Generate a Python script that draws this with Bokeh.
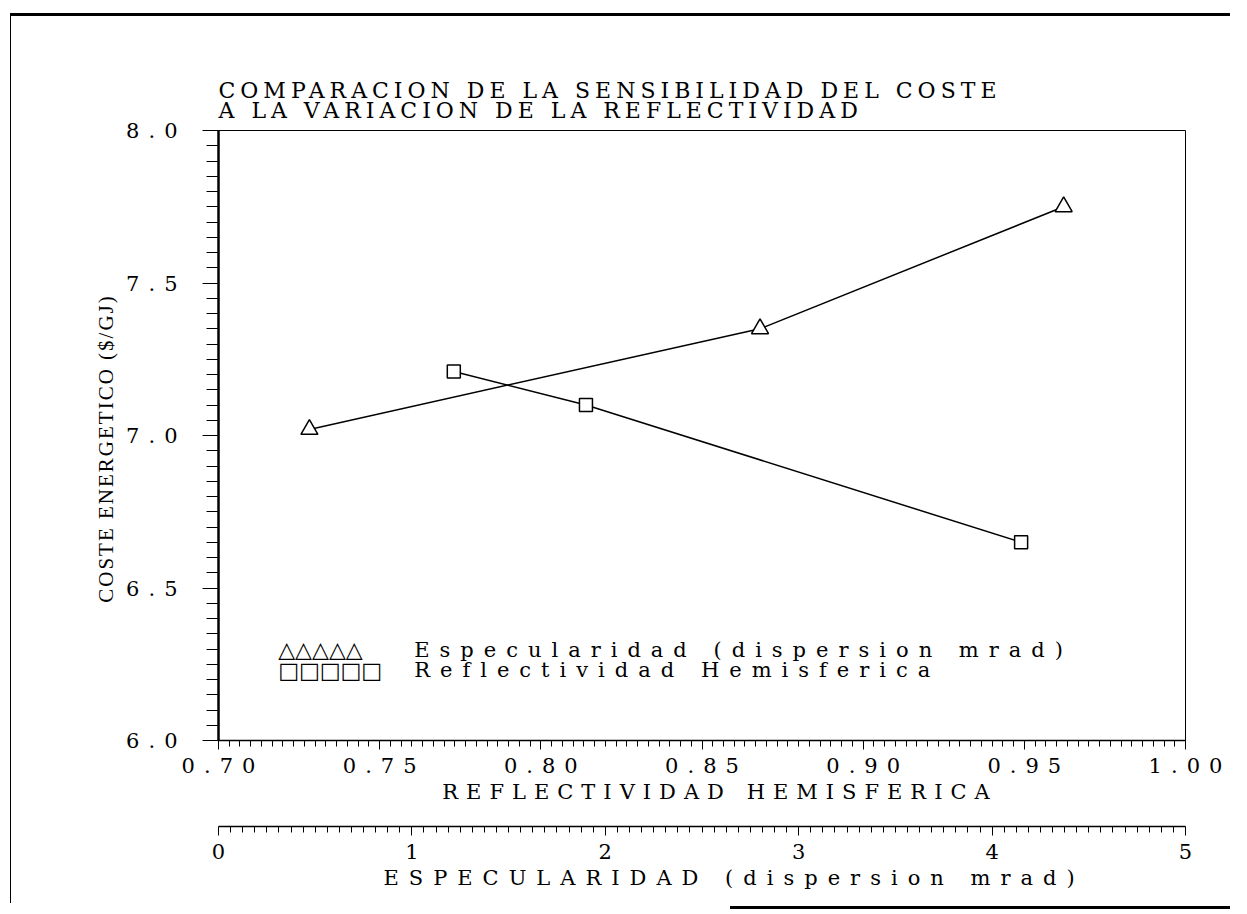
import numpy as np
from bokeh.plotting import figure
from bokeh.document import Document
from bokeh.layouts import column
from bokeh.models import (Range1d, FixedTicker, Label,
                          PrintfTickFormatter, CustomJS)
from bokeh.embed import file_html
from bokeh.resources import INLINE

# ---------------- data ----------------
title_lines = ["COMPARACION DE LA SENSIBILIDAD DEL COSTE",
               "A LA VARIACION DE LA REFLECTIVIDAD"]
x_label = "REFLECTIVIDAD HEMISFERICA"
x2_label = "ESPECULARIDAD (dispersion mrad)"
y_label = "COSTE ENERGETICO ($/GJ)"

# Especularidad series (plotted against the mrad axis)
spec_mrad = [0.47, 2.80, 4.37]
spec_cost = [7.02, 7.35, 7.75]

# Reflectividad series (plotted against the reflectivity axis)
refl_hemi = [0.773, 0.814, 0.949]
refl_cost = [7.21, 7.10, 6.65]

legend_labels = ["Especularidad (dispersion mrad)", "Reflectividad Hemisferica"]
legend_symbols = ["\u25b3\u25b3\u25b3\u25b3\u25b3", "\u25a1\u25a1\u25a1\u25a1\u25a1"]

x_ticks = [0.70, 0.75, 0.80, 0.85, 0.90, 0.95, 1.00]
x2_ticks = [0, 1, 2, 3, 4, 5]
y_ticks = [6.0, 6.5, 7.0, 7.5, 8.0]

SERIF = "DejaVu Serif"
NARROW = "Liberation Serif"
W = 1230
ML, MR = 218, 45

mrad_range = Range1d(x2_ticks[0], x2_ticks[-1])

p = figure(width=W, height=810,
           x_range=Range1d(x_ticks[0], x_ticks[-1]),
           y_range=Range1d(y_ticks[0], y_ticks[-1]),
           output_backend="svg", toolbar_location=None,
           min_border_left=ML, min_border_right=MR,
           min_border_top=130, min_border_bottom=70)
p.extra_x_ranges = {"mrad": mrad_range}

p.background_fill_color = "white"
p.border_fill_color = None
p.outline_line_color = "black"
p.outline_line_width = 1
p.xgrid.visible = False
p.ygrid.visible = False

# title
p.title.text = "\n".join(title_lines)
p.title.align = "left"
p.title.text_font = SERIF
p.title.text_font_size = "22px"
p.title.text_font_style = "normal"
p.title.text_color = "black"
p.title.text_line_height = 0.82
p.title.standoff = 15
p.title.offset = 0


def minor(ticks, n):
    out = []
    for a, b in zip(ticks[:-1], ticks[1:]):
        out.extend(list(np.linspace(a, b, n + 1)[1:-1]))
    return out


def style_x_axis(ax, label):
    ax.axis_label = label
    ax.axis_label_text_font = SERIF
    ax.axis_label_text_font_size = "21px"
    ax.axis_label_text_font_style = "normal"
    ax.axis_label_text_color = "black"
    ax.axis_label_standoff = 4
    ax.major_label_text_font = SERIF
    ax.major_label_text_font_size = "21px"
    ax.major_label_text_color = "black"
    ax.major_label_standoff = 8
    ax.major_tick_out = 9
    ax.major_tick_in = 0
    ax.minor_tick_out = 6
    ax.minor_tick_in = 0
    ax.axis_line_color = "black"
    ax.axis_line_width = 1.5


# primary x axis
xa = p.xaxis[0]
xa.ticker = FixedTicker(ticks=x_ticks, minor_ticks=minor(x_ticks, 15))
xa.formatter = PrintfTickFormatter(format="%.2f")
style_x_axis(xa, x_label)

# y axis
ya = p.yaxis[0]
ya.ticker = FixedTicker(ticks=y_ticks, minor_ticks=minor(y_ticks, 10))
ya.formatter = PrintfTickFormatter(format="%.1f")
ya.axis_label = y_label
ya.axis_label_text_font = NARROW
ya.axis_label_text_font_size = "21px"
ya.axis_label_text_font_style = "normal"
ya.axis_label_text_color = "black"
ya.axis_label_standoff = 23
ya.major_label_text_font = SERIF
ya.major_label_text_font_size = "21px"
ya.major_label_text_color = "black"
ya.major_label_standoff = 25
ya.major_tick_out = 16
ya.major_tick_in = 0
ya.minor_tick_out = 12
ya.minor_tick_in = 0
ya.axis_line_color = "black"
ya.axis_line_width = 2.5

# series
p.line(spec_mrad, spec_cost, x_range_name="mrad", line_color="black", line_width=1.5)
p.scatter(spec_mrad, spec_cost, x_range_name="mrad", marker="triangle", size=17,
          fill_color="white", line_color="black", line_width=1.5)
p.line(refl_hemi, refl_cost, line_color="black", line_width=1.5)
p.scatter(refl_hemi, refl_cost, marker="square", size=13,
          fill_color="white", line_color="black", line_width=1.5)

# legend (typed-style legend as in the original)
leg_rows_y = [6.298, 6.23]
for sym, lab, yy in zip(legend_symbols, legend_labels, leg_rows_y):
    p.add_layout(Label(x=0.7185, y=yy, text=sym, text_font="DejaVu Sans",
                       text_font_size="22px", text_baseline="middle",
                       text_color="black"))
    p.add_layout(Label(x=0.7607, y=yy, text=lab, text_font=SERIF,
                       text_font_size="21px", text_baseline="middle",
                       text_color="black"))

# second (specularity) scale, set lower below the first one
p2 = figure(width=W, height=100, x_range=mrad_range, y_range=Range1d(0, 1),
            output_backend="svg", toolbar_location=None,
            min_border_left=ML, min_border_right=MR,
            min_border_top=15, min_border_bottom=84)
p2.outline_line_color = None
p2.background_fill_color = None
p2.border_fill_color = None
p2.xgrid.visible = False
p2.ygrid.visible = False
p2.yaxis.visible = False
xb = p2.xaxis[0]
xb.ticker = FixedTicker(ticks=x2_ticks, minor_ticks=minor(x2_ticks, 16))
xb.formatter = PrintfTickFormatter(format="%d")
style_x_axis(xb, x2_label)

layout = column(p, p2, spacing=0)
# frame lines of the scanned page
layout.styles = {
    "background-color": "white",
    "background-image": ("linear-gradient(#000,#000), linear-gradient(#000,#000), "
                         "linear-gradient(#000,#000)"),
    "background-position": "10px 13px, 10px 13px, 730px 906px",
    "background-size": "1240px 3px, 1px 890px, 520px 3px",
    "background-repeat": "no-repeat",
}

# wide letter spacing of the original plotter lettering
sp_keys = [title_lines[0], title_lines[1], x_label, x2_label,
           legend_labels[0], legend_labels[1], y_label]
sp_vals = [5, 5, 8, 10, 10, 10, 2]
sp_dx = [0, 0, -82, -123, 0, 0, -36]
xtick_sp = 9
ytick_sp = 9
y_tick_texts = ["%.1f" % v for v in y_ticks]
js = """
function collect(root, out) {
  const all = root.querySelectorAll('*');
  for (const el of all) {
    if (el.tagName === 'text') out.push(el);
    if (el.shadowRoot) collect(el.shadowRoot, out);
  }
}
function apply() {
  const texts = [];
  collect(document, texts);
  for (const t of texts) {
    const s = t.textContent;
    let sp = null, dx = 0;
    const i = keys.indexOf(s);
    if (i >= 0) { sp = vals[i]; dx = dxs[i]; }
    else if (yt.indexOf(s) >= 0) { sp = ysp; dx = -(s.length - 1) * ysp; }
    else if (/^[0-9.]+$/.test(s)) { sp = xsp; dx = -(s.length - 1) * xsp / 2; }
    if (sp != null) {
      const want = sp + 'px';
      if (t.style.letterSpacing !== want) t.style.letterSpacing = want;
      if (t.getAttribute('dx') !== String(dx)) t.setAttribute('dx', String(dx));
    }
  }
}
apply();
setInterval(apply, 40);
"""
doc = Document()
doc.add_root(layout)
doc.js_on_event("document_ready",
                CustomJS(args=dict(keys=sp_keys, vals=sp_vals, dxs=sp_dx,
                                   yt=y_tick_texts, xsp=xtick_sp, ysp=ytick_sp),
                         code=js))

open("out.html", "w").write(file_html(layout, INLINE))
